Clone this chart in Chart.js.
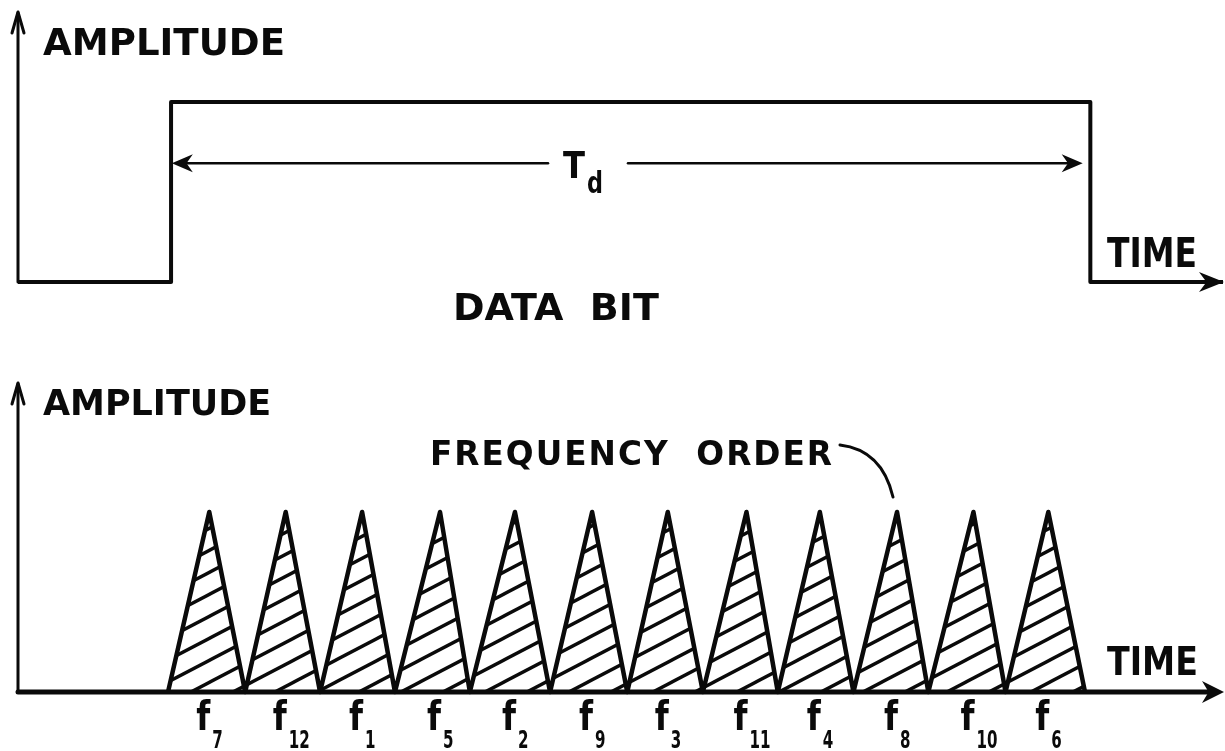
<!DOCTYPE html>
<html>
<head>
<meta charset="utf-8">
<title>Data bit and hop order</title>
<script src="https://cdn.jsdelivr.net/npm/chart.js@4.4.1/dist/chart.umd.min.js"></script>
<style>
  html, body { margin: 0; padding: 0; background: #fff; }
  #wrap { position: relative; width: 1225px; height: 751px; overflow: hidden; background: #fff; }
  canvas { position: absolute; left: 0; }
  #bitChart { top: 0; }
  #hopChart { top: 330px; }
</style>
</head>
<body>
<div id="wrap">
  <canvas id="bitChart" width="1225" height="330"></canvas>
  <canvas id="hopChart" width="1225" height="421"></canvas>
</div>
<script>
// time is measured in chip periods, 0 = start of the data bit
const timeRange = [-1.963, 13.806];

// upper trace: the data bit
const bitTimes = [-1.963, 0.04, 0.04, 12.07, 12.07, 13.806];
const bitLevels = [0, 0, 1, 1, 0, 0];
const bitRange = [0, 1.5];
const tdEnds = [0.05, 11.97];
const tdLevel = 0.66;

// lower trace: one triangle per hop
const chipEdges = [0, 1.01, 1.99, 2.97, 3.95, 5.0, 6.01, 7.0, 7.98, 8.97, 9.95, 10.96, 12.0];
const chipPeaks = [0.54, 1.54, 2.54, 3.56, 4.54, 5.55, 6.54, 7.57, 8.53, 9.54, 10.54, 11.52];
const chipHeights = [1, 1, 1, 1, 1, 1, 1, 1, 1, 1, 1, 1];
const hopOrder = ["7", "12", "1", "5", "2", "9", "3", "11", "4", "8", "10", "6"];
const hopRange = [0, 1.7167];

const INK = "#0a0a0a";
const FONT = '"DejaVu Sans", "Liberation Sans", Arial, sans-serif';

function text(ctx, str, x, y, size, maxWidth, align, spacing) {
  ctx.font = "bold " + size + "px " + FONT;
  ctx.textAlign = align || "left";
  ctx.textBaseline = "alphabetic";
  ctx.letterSpacing = spacing || "0px";
  ctx.fillText(str, x, y, maxWidth);
  ctx.letterSpacing = "0px";
}

function line(ctx, x0, y0, x1, y1) {
  ctx.beginPath();
  ctx.moveTo(x0, y0);
  ctx.lineTo(x1, y1);
  ctx.stroke();
}

function upArrow(ctx, x, tipY) {
  ctx.beginPath();
  ctx.moveTo(x - 6, tipY + 21);
  ctx.lineTo(x, tipY);
  ctx.lineTo(x + 6, tipY + 21);
  ctx.stroke();
}

// filled barbed head, dir = 1 points right, -1 points left
function barb(ctx, tipX, y, dir, len, half) {
  ctx.beginPath();
  ctx.moveTo(tipX, y);
  ctx.lineTo(tipX - dir * len, y - half);
  ctx.lineTo(tipX - dir * len * 0.7, y);
  ctx.lineTo(tipX - dir * len, y + half);
  ctx.closePath();
  ctx.fill();
}

const bitDecor = {
  id: "bitDecor",
  afterDatasetsDraw(chart) {
    const { ctx, chartArea: a, scales: { x, y } } = chart;
    const y0 = y.getPixelForValue(0);
    ctx.save();
    ctx.strokeStyle = INK;
    ctx.fillStyle = INK;
    ctx.lineCap = "round";
    ctx.lineJoin = "round";

    ctx.lineWidth = 3;
    line(ctx, a.left, y0, a.left, a.top + 1);
    upArrow(ctx, a.left, a.top);
    barb(ctx, a.right + 1, y0, 1, 25, 10);

    // Td dimension arrow
    const ty = y.getPixelForValue(tdLevel);
    const xa = x.getPixelForValue(tdEnds[0]);
    const xb = x.getPixelForValue(tdEnds[1]);
    ctx.lineWidth = 2.5;
    line(ctx, xa + 10, ty, 548, ty);
    line(ctx, 628, ty, xb - 10, ty);
    barb(ctx, xa, ty, -1, 21, 9);
    barb(ctx, xb, ty, 1, 21, 9);

    text(ctx, "T", 563, 178, 38, 22);
    text(ctx, "d", 587, 193, 30, 16);
    text(ctx, "AMPLITUDE", 43, 55, 38, 242);
    text(ctx, "TIME", 1107, 267, 41, 90);
    text(ctx, "DATA  BIT", 453, 320, 38, 207);
    ctx.restore();
  }
};

const hopDecor = {
  id: "hopDecor",
  afterDatasetsDraw(chart) {
    const { ctx, chartArea: a, scales: { x, y } } = chart;
    const y0 = y.getPixelForValue(0);
    ctx.save();
    ctx.strokeStyle = INK;
    ctx.fillStyle = INK;
    ctx.lineCap = "round";
    ctx.lineJoin = "round";

    ctx.lineWidth = 3;
    line(ctx, a.left, y0, a.left, a.top + 1);
    upArrow(ctx, a.left, a.top);
    ctx.lineWidth = 5;
    line(ctx, a.left, y0, a.right - 10, y0);
    barb(ctx, a.right + 1, y0, 1, 22, 11);

    // leader from the label to a peak
    ctx.lineWidth = 3;
    ctx.beginPath();
    ctx.moveTo(840, 115);
    ctx.quadraticCurveTo(882, 120, 893, 167);
    ctx.stroke();

    text(ctx, "AMPLITUDE", 43, 85, 35, 230);
    text(ctx, "FREQUENCY  ORDER", 430, 135, 33, 404, "left", "2px");
    text(ctx, "TIME", 1107, 345, 39, 91);

    hopOrder.forEach((n, i) => {
      const px = x.getPixelForValue(chipPeaks[i]);
      text(ctx, "f", px + 1, 400, 41, 14, "right");
      text(ctx, n, px + 3, 418, 25, n.length * 10.5, "left");
    });
    ctx.restore();
  }
};

function hatch(ctx) {
  const w = 42, h = 22;
  const tile = document.createElement("canvas");
  tile.width = w;
  tile.height = h;
  const t = tile.getContext("2d");
  t.strokeStyle = INK;
  t.lineWidth = 3.4;
  [-h, 0, h].forEach((c) => {
    t.beginPath();
    t.moveTo(-w, h + c + h);
    t.lineTo(2 * w, c - h);
    t.stroke();
  });
  return ctx.createPattern(tile, "repeat");
}

const baseOptions = (range, padding) => ({
  responsive: false,
  animation: false,
  events: [],
  layout: { padding: padding },
  plugins: { legend: { display: false }, tooltip: { enabled: false } },
  scales: {
    x: { type: "linear", min: timeRange[0], max: timeRange[1], display: false },
    y: { min: range[0], max: range[1], display: false }
  }
});

const bitCanvas = document.getElementById("bitChart");
new Chart(bitCanvas, {
  type: "line",
  data: {
    datasets: [{
      label: "Data bit",
      data: bitTimes.map((t, i) => ({ x: t, y: bitLevels[i] })),
      borderColor: INK,
      borderWidth: 4,
      borderJoinStyle: "round",
      pointRadius: 0,
      tension: 0,
      fill: false,
      clip: false
    }]
  },
  options: baseOptions(bitRange, { left: 18, right: 2, top: 12, bottom: 48 }),
  plugins: [bitDecor]
});

const hopPoints = [];
chipPeaks.forEach((p, i) => {
  hopPoints.push({ x: chipEdges[i], y: 0 });
  hopPoints.push({ x: p, y: chipHeights[i] });
});
hopPoints.push({ x: chipEdges[chipEdges.length - 1], y: 0 });

const hopCanvas = document.getElementById("hopChart");
new Chart(hopCanvas, {
  type: "line",
  data: {
    datasets: [{
      label: "Hops",
      data: hopPoints,
      borderColor: INK,
      borderWidth: 4.5,
      borderJoinStyle: "round",
      backgroundColor: hatch(hopCanvas.getContext("2d")),
      pointRadius: 0,
      tension: 0,
      fill: "origin",
      clip: false
    }]
  },
  options: baseOptions(hopRange, { left: 18, right: 2, top: 53, bottom: 59 }),
  plugins: [hopDecor]
});
</script>
</body>
</html>
